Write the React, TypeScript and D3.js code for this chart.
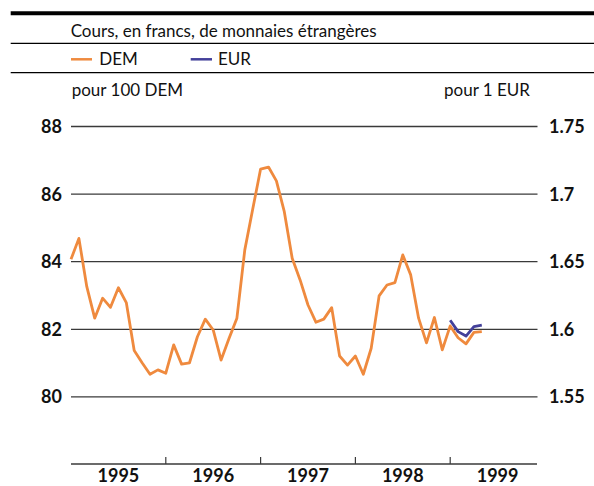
import React from "react";
import { scaleLinear, line } from "d3";

const orange = "#ef8a3e";
const blue = "#43409a";
const grid = "#3a3a3a";
const font = "Lato, 'Noto Sans', sans-serif";

const years = ["1995", "1996", "1997", "1998", "1999"];

// monthly, Jan 1995 - May 1999, francs for 100 DEM
const dem = [
  84.07, 84.69, 83.26, 82.33, 82.92, 82.65, 83.23, 82.79, 81.37, 81.01, 80.67, 80.8,
  80.7, 81.54, 80.97, 81.01, 81.78, 82.3, 81.98, 81.09, 81.73, 82.33, 84.35, 85.55,
  86.74, 86.8, 86.39, 85.48, 84.1, 83.46, 82.72, 82.21, 82.3, 82.64, 81.21, 80.94,
  81.21, 80.67, 81.44, 82.99, 83.31, 83.38, 84.2, 83.61, 82.33, 81.6, 82.35, 81.39,
  82.1, 81.75, 81.57, 81.91, 81.93,
];

// monthly, Jan 1999 - May 1999, francs for 1 EUR
const eur = [1.6067, 1.5983, 1.595, 1.602, 1.603];
const eurStart = 48;

const leftTicks = [80, 82, 84, 86, 88];
const rightTicks = [1.55, 1.6, 1.65, 1.7, 1.75];

const W = 594;
const H = 486;

export default function App() {
  const x = scaleLinear().domain([0, 59]).range([71, 537.1]);
  const y = scaleLinear().domain([80, 88]).range([396.9, 126.5]);
  const yR = scaleLinear().domain([1.55, 1.75]).range([396.9, 126.5]);

  const demLine = line<number>()
    .x((_, i) => x(i))
    .y((d) => y(d));
  const eurLine = line<number>()
    .x((_, i) => x(eurStart + i))
    .y((d) => yR(d));

  const axisY = 464;

  return (
    <div style={{ position: "absolute", left: 0, top: 0 }}>
      <svg width={W} height={H} style={{ display: "block", fontFamily: font }}>
        <rect width={W} height={H} fill="#fff" />

        {/* header rules */}
        <line x1={10.7} x2={W} y1={13.3} y2={13.3} stroke="#000" strokeWidth={4} />
        <line x1={10.7} x2={W} y1={43.3} y2={43.3} stroke="#000" strokeWidth={1.2} />
        <line x1={10.7} x2={W} y1={72.7} y2={72.7} stroke="#000" strokeWidth={1.2} />

        <text x={70.7} y={37} fontSize={17} fill="#111">
          Cours, en francs, de monnaies étrangères
        </text>

        {/* legend */}
        <line x1={71} x2={92} y1={59.3} y2={59.3} stroke={orange} strokeWidth={2.5} />
        <text x={99.3} y={65} fontSize={17} fill="#111">DEM</text>
        <line x1={190.7} x2={212} y1={59.3} y2={59.3} stroke={blue} strokeWidth={2.5} />
        <text x={218} y={65} fontSize={17} fill="#111">EUR</text>

        <text x={71.7} y={96} fontSize={17} fill="#111">pour 100 DEM</text>
        <text x={530} y={96} fontSize={17} fill="#111" textAnchor="end">pour 1 EUR</text>

        {/* grid + tick labels */}
        {leftTicks.map((t) => (
          <g key={t}>
            <line x1={71} x2={537.5} y1={y(t)} y2={y(t)} stroke={grid} strokeWidth={1.3} />
            <text x={62} y={y(t)} dy="0.36em" fontSize={18} fontWeight="bold" textAnchor="end" fill="#111">
              {t}
            </text>
          </g>
        ))}
        {rightTicks.map((t) => (
          <text key={t} x={549} y={yR(t)} dy="0.36em" fontSize={18} fontWeight="bold" fill="#111">
            {t}
          </text>
        ))}

        {/* x axis */}
        <line x1={71} x2={537} y1={axisY} y2={axisY} stroke={grid} strokeWidth={1.3} />
        {years.map((yr, i) => (
          <g key={yr}>
            {i > 0 && (
              <line x1={x(i * 12)} x2={x(i * 12)} y1={axisY} y2={axisY - 7} stroke={grid} strokeWidth={1.2} />
            )}
            <text x={x(i * 12 + 6)} y={482} fontSize={18} fontWeight="bold" textAnchor="middle" fill="#111">
              {yr}
            </text>
          </g>
        ))}

        {/* series */}
        <path d={demLine(dem) ?? ""} fill="none" stroke={orange} strokeWidth={2.8} strokeLinejoin="round" />
        <path d={eurLine(eur) ?? ""} fill="none" stroke={blue} strokeWidth={2.8} strokeLinejoin="round" />
      </svg>
    </div>
  );
}
